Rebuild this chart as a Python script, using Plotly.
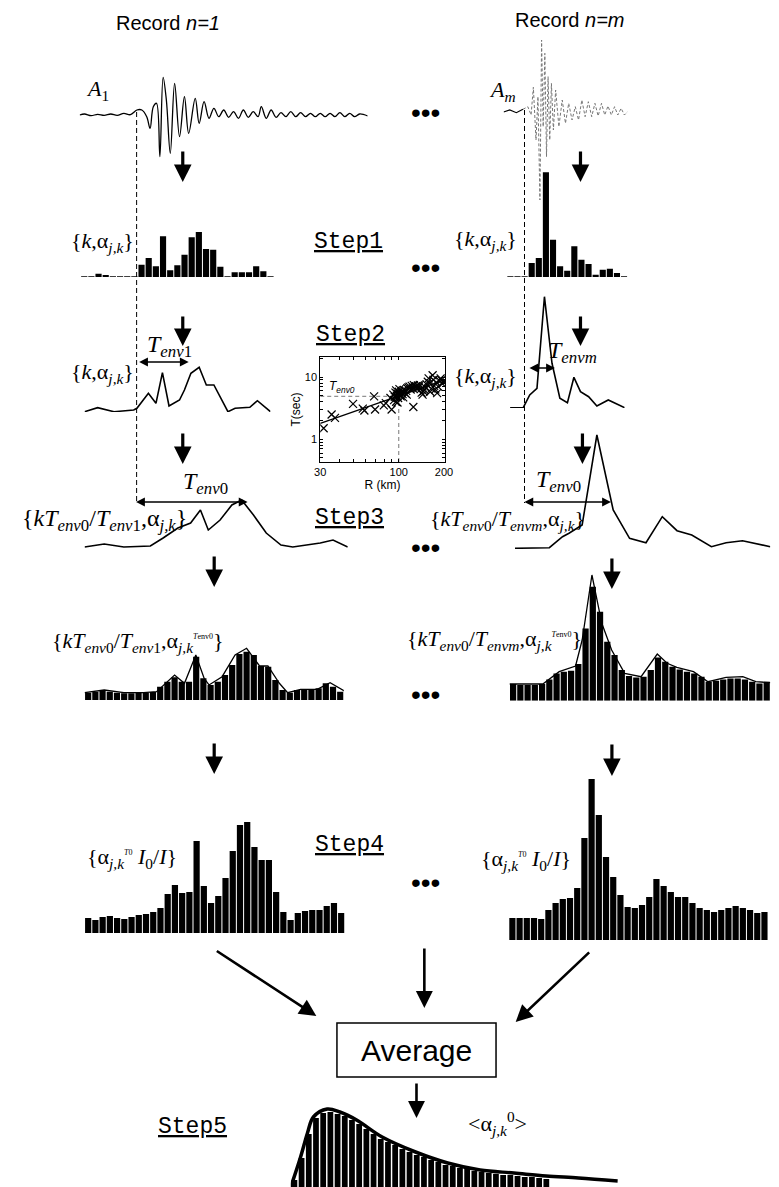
import math
import plotly.graph_objects as go

W, H = 779, 1187

# ---------------- data ----------------
# Record n=1 seismogram (time offset, amplitude)
a1_t = [0, 5, 11.7, 18.3, 25, 31.7, 38.3, 45, 51.7, 58.3, 63.3, 68.3, 71.7, 75, 78.3, 81.7, 85, 88.3, 92.3,
        96.7, 101.7, 106.7, 111, 117.7, 121.7, 126.7, 131.7, 136.7, 141.7, 146.7, 151.7, 156.7, 161.7, 166.7,
        171.7, 176.7, 181.7, 185, 190, 195, 200, 205, 210, 215, 220, 225, 230, 235, 240, 245, 250, 255, 260,
        265, 270, 275, 280, 285, 293.3]
a1_amp = [0, 1, -0.7, 0.7, -0.3, 1, -0.3, 1.7, 0.3, 5, 5, -1.7, -13.3, 8.3, 11.7, -41.7, 37.7, 15, -38.3,
          31.7, -21.7, 18.3, -18.3, 16.7, -8.3, 13.3, -3.3, 6.7, -1.7, 5, -2.3, 3.3, -3.3, 5, -2.3, 3.3, -1.7,
          8.3, -3.3, 5, -2.3, 2.3, -1.7, 3.3, -1.7, 2.3, -1.7, 1.7, -1.7, 1.7, -1.7, 1.7, -1.7, 2.3, -1.7, 1.7,
          -1.7, 1, -1]
# Record n=m seismogram
am_t = [0, 6.3, 13, 19.7, 24.7, 28, 30.3, 33, 35, 37, 38.7, 40.3, 42, 43.7, 45.3, 47, 48.7, 50.7, 53, 56.3,
        59.7, 63, 66.3, 69.7, 73, 76.3, 79.7, 83, 86.3, 89.7, 93, 96.3, 99.7, 103, 106.3, 109.7, 113, 116.3,
        119.7, 123, 126.3]
am_amp = [0, 2, -0.7, 2.7, 5.3, -3, 24.7, -28, 15.3, -88, 72, -14.7, 58.7, -44.7, 35.3, -28, 28.7, -18, 22,
          -14.7, 12, -11.3, 8.7, -8, 5.3, -8, 12, -4.7, 10.3, -4.7, 8.7, -4, 8.7, -3, 6, -3, 5.3, -3, 3.7, -3, 0.3]

# Step1 : alpha_{j,k} bars
s1_left = [0.7, 0.7, 3.3, 2, 0.7, 0.7, 0.7, 0.7, 12.3, 19, 10.7, 40.7, 6.7, 11.7, 22.3, 39.7, 45, 28, 27.3,
           10.3, 0.7, 4.7, 4.7, 4.7, 10.7, 5.7, 0.7]
s1_right = [0.7, 0.7, 0.7, 14, 19, 104.7, 37.3, 10.7, 6.3, 30.7, 17.3, 13, 2.3, 7.3, 8.3, 4, 0.7]

# Step2 : envelopes
s2l_k = [0, 13.3, 30, 50, 53.3, 65, 72.7, 79.3, 86, 96.7, 101.7, 108.3, 116.7, 124, 131.7, 146, 153.3, 168.3,
         176, 189.3]
s2l_v = [0.3, 4.3, 0.3, 2, 3.7, 18.7, 8.7, 39.3, 6, 12, 22, 38.7, 44.7, 27, 27, 0.3, 3.7, 4.7, 11.3, 0.3]
s2r_k = [0, 13.4, 20, 27.4, 35, 42.7, 50.7, 58.4, 65, 71.7, 80, 88.4, 100, 116.7]
s2r_v = [0.3, 0.3, 13, 19.7, 111.3, 44.7, 9.7, 5.3, 30.7, 16.3, 11.3, 2, 8, 0.3]

# Step2 inset : T_env vs R
sc_R = [31.6, 35.7, 37.6, 49.6, 57.6, 59, 68.5, 69.5, 79.5, 82, 89.6, 93, 88, 96, 98,
        92, 94, 95, 96, 97, 98, 99, 100, 101, 102, 103, 104, 105, 106, 107, 108, 110, 112, 114, 113,
        116, 118, 120, 122, 124, 126, 128, 130, 132, 134, 136, 138, 140, 142, 144, 146, 148, 125,
        150, 153, 156, 158, 160, 162, 165, 168, 170, 172, 175, 178, 180, 183, 186, 190, 192, 195, 198]
sc_T = [1.5, 2.5, 2.2, 3.7, 3.1, 2.9, 4.9, 3.0, 3.5, 3.8, 3.0, 4.25, 4.6, 4.0, 3.9,
        5.2, 4.8, 5.6, 6.1, 5.0, 5.4, 4.6, 5.8, 6.4, 5.1, 4.9, 5.7, 6.0, 5.3, 4.7, 6.2, 5.5, 6.0, 6.6, 5.2,
        6.8, 7.0, 6.3, 7.2, 6.6, 7.4, 6.9, 7.1, 6.5, 7.3, 6.8, 7.5, 6.4, 5.6, 5.2, 5.9, 6.2, 3.3,
        6.8, 7.6, 8.4, 9.5, 8.0, 5.8, 6.5, 10.7, 9.0, 7.2, 6.3, 8.2, 5.5, 7.0, 8.8, 9.5, 8.9, 7.8, 8.4]
fit_R = [30, 200]
fit_T = [1.8, 8.9]
R_ref = 100
T_env0 = 4.9
x_ticks = [30, 40, 50, 60, 70, 80, 90, 100, 200]
x_ticktext = ['30', '', '', '', '', '', '', '100', '200']
y_ticks = [0.5, 0.6, 0.7, 0.8, 0.9, 1, 2, 3, 4, 5, 6, 7, 8, 9, 10, 20]
y_ticktext = ['', '', '', '', '', '1', '', '', '', '', '', '', '', '', '10', '']

# Step3 : rescaled envelopes
s3l_k = [0, 20, 40, 67, 80, 95, 108, 118, 126, 138, 150, 160, 172, 185, 200, 212, 240, 253, 268]
s3l_v = [2, 5, 2, 3, 11, 21, 26, 39, 19, 29, 44, 49, 34, 16, 4, 2, 6, 9, 2]
s3r_k = [0, 15, 35, 48.4, 55, 68.4, 83.4, 100, 116.7, 133.4, 150, 165, 180, 200, 215, 231.7, 260]
s3r_v = [0.7, 0.7, 1.3, 12.3, 15.7, 24, 114, 39, 10.7, 6.3, 32.3, 18.3, 14, 2.3, 6.3, 8.3, 2.3]

# Step3 : resampled alpha^{Tenv0} bars + envelope
s3b_left = [7.3, 8.3, 10, 8.3, 7.3, 6.7, 6.7, 7.3, 7.3, 8, 13.3, 18.3, 22.7, 18.3, 18.3, 43.3, 21.7, 15, 18.3,
            25, 35, 46, 48.3, 45, 34, 33.3, 20, 10, 7.3, 10, 10.7, 10.7, 11.7, 16.7, 13.3, 8.3]
s3e_left_k = [-0.5, 2.23, 4.96, 7.69, 9.5, 12.0, 13.37, 14.95, 16.1, 16.78, 18.6, 20.4, 22.0, 23.8, 24.96,
              26.55, 27.7, 29.5, 31.8, 33.6, 36.1]
s3e_left_v = [7.3, 10, 7.3, 7.3, 8.3, 25, 16.7, 45, 21.7, 15, 23.3, 45, 51.7, 34, 34, 16.7, 7.3, 10.7, 10.7,
              17.3, 6.7]
s3b_right = [16.7, 15.7, 15.7, 15.7, 16.7, 21.3, 27.3, 29, 30, 36.7, 72.3, 114, 89, 59, 45.7, 30.7, 24.7, 23.3,
             24, 30.7, 43.3, 39, 34, 31.3, 29, 27.3, 24, 19, 20, 21.3, 22.3, 22.3, 21.3, 19, 17.3, 19]
s3e_right_k = [-0.5, 4.1, 6.36, 8.62, 9.53, 10.88, 12.24, 13.6, 15.4, 17.66, 19.9, 21.26, 22.6, 24.9, 26.9,
               29.4, 31.7, 33.5, 35.5]
s3e_right_v = [16.7, 16.7, 29, 34.7, 60.7, 125.7, 77.4, 50.7, 27.4, 24, 46.7, 37.4, 33.4, 29, 19, 23.4, 24,
               19, 18]

# Step4 : alpha^{T0} I0/I
s4_left = [15, 13, 16, 17, 15, 14, 16, 18, 19, 21, 25, 39, 48, 40, 41, 92, 47, 30, 37, 55, 82, 108, 111, 86,
           73, 73, 41, 21, 13, 20, 22, 23, 23, 27, 30, 20]
s4_right = [22, 22, 22, 22, 21, 30, 37, 41, 42, 52, 102, 161, 125, 83, 63, 45, 33, 32, 35, 43, 61, 54, 48, 43,
            43, 37, 32, 30, 28, 30, 32, 34, 32, 30, 27, 28]

# Step5 : average
s5_bars = [20, 42, 66, 82, 87, 88, 86, 84, 80, 76, 71, 66, 61, 58, 55, 51, 48, 45, 43, 40, 38, 35, 34, 32, 31,
           29, 28, 27, 26, 25, 25, 24, 23, 23, 22, 21]
s5_k = [-0.5, 0.86, 1.82, 2.64, 4.55, 6.32, 8.64, 12.19, 16.83, 21.3, 25.8, 30.5, 34.97, 39.47, 44.93]
s5_curve = [13, 43, 67, 83, 91, 88, 80, 63, 48, 37, 30, 27, 24, 22, 19]

# ---------------- figure helpers ----------------
fig = go.Figure()
axes = {}
_n = [0]


def panel(x0, x1, ytop, ybot, xr, yr, xa=None, ya=None):
    _n[0] += 1
    k = _n[0]
    s = '' if k == 1 else str(k)
    xd = dict(domain=[x0 / W, x1 / W], range=xr, visible=False, fixedrange=True, anchor='y' + s)
    yd = dict(domain=[1 - ybot / H, 1 - ytop / H], range=yr, visible=False, fixedrange=True, anchor='x' + s)
    if xa:
        xd.update(xa)
    if ya:
        yd.update(ya)
    axes['xaxis' + s] = xd
    axes['yaxis' + s] = yd
    return 'x' + s, 'y' + s


def line(xa, ya, x, y, width=1.5, color='black', dash='solid', shape='linear'):
    fig.add_trace(go.Scatter(x=x, y=y, mode='lines', xaxis=xa, yaxis=ya, hoverinfo='skip',
                             line=dict(color=color, width=width, dash=dash, shape=shape), showlegend=False))


def bars(xa, ya, vals, width=0.86):
    fig.add_trace(go.Bar(x=list(range(len(vals))), y=vals, width=width, xaxis=xa, yaxis=ya, hoverinfo='skip',
                         marker=dict(color='black', line=dict(width=0)), showlegend=False))


ann = []
shapes = []
SERIF = 'Liberation Serif'
SANS = 'Liberation Sans'
MONO = 'Liberation Mono'


def txt(x, y, s, size, family=SERIF, xanchor='center'):
    ann.append(dict(x=x / W, y=1 - y / H, xref='paper', yref='paper', text=s, showarrow=False,
                    xanchor=xanchor, yanchor='middle', font=dict(size=size, family=family, color='black')))


def arrow(x0, y0, x1, y1, w=3.2, size=1.1, both=False):
    ann.append(dict(x=x1 / W, y=1 - y1 / H, xref='paper', yref='paper', ax=x0 - x1, ay=y0 - y1,
                    axref='pixel', ayref='pixel', text='', showarrow=True, arrowhead=2, arrowsize=size,
                    arrowwidth=w, arrowcolor='black', arrowside='end+start' if both else 'end',
                    startarrowhead=2, startarrowsize=size))


# ---------------- seismograms ----------------
xa, ya = panel(75, 368.3, 60, 170, [0, 293.3], [-55, 55])
line(xa, ya, a1_t, a1_amp, width=1.3, shape='spline')
xa, ya = panel(506.7, 633, 30, 210, [0, 126.3], [-98, 82])
line(xa, ya, am_t[:4], am_amp[:4], width=1.2)
line(xa, ya, am_t[3:], am_amp[3:], width=1, color='#777777', dash='3px,2px')

# ---------------- Step1 bars ----------------
xa, ya = panel(76, 273, 225, 277, [-0.5, len(s1_left) - 0.5], [0, 52])
bars(xa, ya, s1_left)
xa, ya = panel(510, 633, 170, 277, [-0.5, len(s1_right) - 0.5], [0, 107])
bars(xa, ya, s1_right)

# ---------------- Step2 envelopes ----------------
xa, ya = panel(80, 269.3, 360, 412, [0, 189.3], [0, 52])
line(xa, ya, s2l_k, s2l_v, width=1.6)
xa, ya = panel(513.3, 630, 290, 408, [0, 116.7], [0, 118])
line(xa, ya, s2r_k, s2r_v, width=1.6)

# ---------------- Step2 inset ----------------
tickfont = dict(size=11, family=SANS, color='black')
titlefont = dict(size=12, family=SANS, color='black')
xa, ya = panel(320, 447, 357, 462, [math.log10(30), math.log10(203)], [math.log10(0.43), math.log10(21)],
               xa=dict(visible=True, type='log', showline=True, mirror='allticks', linecolor='black',
                       linewidth=1, ticks='inside', ticklen=3, tickcolor='black', tickvals=x_ticks,
                       ticktext=x_ticktext, tickfont=tickfont, showgrid=False, zeroline=False,
                       title=dict(text='R (km)', font=titlefont, standoff=1)),
               ya=dict(visible=True, type='log', showline=True, mirror='allticks', linecolor='black',
                       linewidth=1, ticks='inside', ticklen=3, tickcolor='black', tickvals=y_ticks,
                       ticktext=y_ticktext, tickfont=tickfont, showgrid=False, zeroline=False,
                       title=dict(text='T(sec)', font=titlefont, standoff=1)))
line(xa, ya, [fit_R[0], R_ref], [T_env0, T_env0], width=1, color='#777777', dash='4px,3px')
line(xa, ya, [R_ref, R_ref], [0.43, T_env0], width=1, color='#777777', dash='4px,3px')
line(xa, ya, fit_R, fit_T, width=1.3)
fig.add_trace(go.Scatter(x=sc_R, y=sc_T, mode='markers', xaxis=xa, yaxis=ya, hoverinfo='skip', showlegend=False,
                         marker=dict(symbol='x-thin', size=8, line=dict(width=1.2, color='black'))))

# ---------------- Step3 envelopes ----------------
xa, ya = panel(80, 348, 490, 549, [0, 268], [0, 59])
line(xa, ya, s3l_k, s3l_v, width=1.6)
xa, ya = panel(518.3, 778.3, 425, 549, [0, 260], [0, 124])
line(xa, ya, s3r_k, s3r_v, width=1.6)

# ---------------- Step3 bars ----------------
xa, ya = panel(80, 344, 640, 700, [-0.5, 35.5], [0, 60])
bars(xa, ya, s3b_left)
line(xa, ya, s3e_left_k, s3e_left_v, width=1.3)
xa, ya = panel(512.7, 778.3, 570, 700.7, [-0.5, 35.5], [0, 130.7])
bars(xa, ya, s3b_right)
line(xa, ya, s3e_right_k, s3e_right_v, width=1.3)

# ---------------- Step4 bars ----------------
xa, ya = panel(80, 345, 815, 933, [-0.5, 35.5], [0, 118])
bars(xa, ya, s4_left)
xa, ya = panel(512, 776, 770, 940, [-0.5, 35.5], [0, 170])
bars(xa, ya, s4_right)

# ---------------- Step5 ----------------
xa, ya = panel(290, 623, 1090, 1187, [-0.5, 44.93], [13, 110])
bars(xa, ya, s5_bars, width=0.8)
line(xa, ya, s5_k, s5_curve, width=3.5, shape='spline')

# ---------------- texts ----------------
txt(165, 23, 'Record <i>n=1</i>', 20, SANS)
txt(574, 20, 'Record <i>n=m</i>', 20, SANS)
txt(93, 90, '<i>A</i><sub>1</sub>', 22)
txt(506, 91, '<i>A</i><sub><i>m</i></sub>', 22)
for yy in [112, 268, 548, 694, 882]:
    txt(427, yy, '•••', 28, SANS)

txt(349, 242, '<u>Step1</u>', 23, MONO)
txt(351, 335, '<u>Step2</u>', 23, MONO)
txt(350, 518, '<u>Step3</u>', 23, MONO)
txt(350, 845, '<u>Step4</u>', 23, MONO)
txt(190, 1127, '<u>Step5</u>', 23, MONO)

ka = '{<i>k</i>,α<sub><i>j,k</i></sub>}'
txt(98, 242, ka, 22)
txt(488, 240, ka, 22)
txt(98, 373, ka, 22)
txt(488, 377, ka, 22)
txt(166, 346, '<i>T</i><sub><i>env</i>1</sub>', 24)
txt(577, 352, '<i>T</i><sub><i>envm</i></sub>', 24)
txt(203, 483, '<i>T</i><sub><i>env</i>0</sub>', 24)
txt(563, 481, '<i>T</i><sub><i>env</i>0</sub>', 24)
txt(100, 520, '{<i>kT</i><sub><i>env</i>0</sub>/<i>T</i><sub><i>env</i>1</sub>,α<sub><i>j,k</i></sub>}', 24)
txt(511, 520, '{<i>kT</i><sub><i>env</i>0</sub>/<i>T</i><sub><i>envm</i></sub>,α<sub><i>j,k</i></sub>}', 22)
sup_env0 = "<sup><span style='font-size:8px'><i>T</i>env0</span></sup>"
txt(134, 642, '{<i>kT</i><sub><i>env</i>0</sub>/<i>T</i><sub><i>env</i>1</sub>,α<sub><i>j,k</i></sub>'
    + sup_env0 + '}', 22)
txt(497, 640, '{<i>kT</i><sub><i>env</i>0</sub>/<i>T</i><sub><i>envm</i></sub>,α<sub><i>j,k</i></sub>'
    + sup_env0 + '}', 22)
sup_t0 = "<sup><span style='font-size:8px'><i>T</i>0</span></sup>"
txt(128, 858, '{α<sub><i>j,k</i></sub>' + sup_t0 + ' <i>I</i><sub>0</sub>/<i>I</i>}', 22)
txt(530, 860, '{α<sub><i>j,k</i></sub>' + sup_t0 + ' <i>I</i><sub>0</sub>/<i>I</i>}', 22)
txt(500, 1123, '&lt;α<sub><i>j,k</i></sub><sup>0</sup>&gt;', 22)
txt(327, 387, '<i>T<sub>env0</sub></i>', 12, SANS, xanchor='left')
txt(418, 1050, 'Average', 30, SANS)

# ---------------- arrows ----------------
arrow(180, 150, 180, 182)
arrow(585, 150, 585, 182)
arrow(180, 315, 180, 346)
arrow(585, 315, 585, 346)
arrow(180, 432, 180, 464)
arrow(587, 432, 587, 464)
arrow(212, 555, 212, 587)
arrow(617, 557, 617, 589)
arrow(212, 742, 212, 774)
arrow(617, 743, 617, 776)
arrow(426, 947, 426, 1008, w=2.6, size=1.3)
arrow(215, 950, 316, 1016, w=2.6, size=1.3)
arrow(594, 951, 519, 1022, w=2.6, size=1.3)
arrow(418, 1082, 418, 1118, w=2.6, size=1.3)
arrow(135, 362, 186, 362, w=1.6, size=1.1, both=True)
arrow(532, 368, 559, 368, w=1.6, size=1.1, both=True)
arrow(133, 502, 246, 502, w=1.6, size=1.1, both=True)
arrow(528, 502, 616, 502, w=1.6, size=1.1, both=True)

# ---------------- guides ----------------
for gx, gy0 in [(133, 112), (528, 110)]:
    shapes.append(dict(type='line', xref='paper', yref='paper', x0=gx / W, x1=gx / W, y0=1 - gy0 / H,
                       y1=1 - 503 / H, line=dict(color='black', width=1, dash='5px,3px')))
shapes.append(dict(type='rect', xref='paper', yref='paper', x0=337 / W, x1=499 / W, y0=1 - 1077 / H,
                   y1=1 - 1023 / H, line=dict(color='black', width=1.5), fillcolor='rgba(0,0,0,0)'))

fig.update_layout(width=W, height=H, margin=dict(l=0, r=0, t=0, b=0), paper_bgcolor='white',
                  plot_bgcolor='rgba(0,0,0,0)', showlegend=False, annotations=ann, shapes=shapes,
                  barmode='overlay', **axes)
fig.write_html("out.html", config=dict(displayModeBar=False, staticPlot=True),
               post_script="document.body.style.margin='0';document.body.style.padding='0';"
                           "document.body.style.overflow='hidden';")
